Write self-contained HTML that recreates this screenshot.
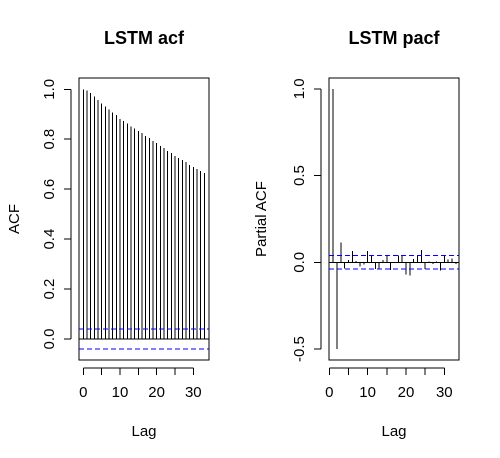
<!DOCTYPE html>
<html><head><meta charset="utf-8"><style>
html,body{margin:0;padding:0;background:#fff}
svg{display:block;font-family:"Liberation Sans",Arial,sans-serif}
line,rect{shape-rendering:crispEdges}
</style></head><body>
<svg id="c" width="500" height="458" viewBox="0 0 500 458"></svg>
<script>
const acfLags=[0,1,2,3,4,5,6,7,8,9,10,11,12,13,14,15,16,17,18,19,20,21,22,23,24,25,26,27,28,29,30,31,32,33];
const acfValues=[1.0,0.996,0.985,0.972,0.957,0.944,0.932,0.920,0.908,0.897,0.882,0.873,0.864,0.852,0.844,0.833,0.825,0.813,0.805,0.793,0.784,0.773,0.764,0.753,0.744,0.733,0.724,0.716,0.708,0.696,0.688,0.680,0.672,0.664];
const pacfLags=[1,2,3,4,5,6,7,8,9,10,11,12,13,14,15,16,17,18,19,20,21,22,23,24,25,26,27,28,29,30,31,32,33];
const pacfValues=[1.0,-0.50,0.113,-0.035,0.013,0.065,0.008,-0.025,-0.012,0.065,0.04,-0.038,-0.036,0.013,0.04,-0.044,-0.005,0.038,0.038,-0.07,-0.077,0.019,0.04,0.071,-0.04,0.005,-0.01,0.005,-0.048,0.04,0.015,0.023,-0.01];
const ciBound=0.04;
const acfYTicks=[0,0.2,0.4,0.6,0.8,1.0];
const acfYLabels=["0.0","0.2","0.4","0.6","0.8","1.0"];
const pacfYTicks=[-0.5,0,0.5,1.0];
const pacfYLabels=["-0.5","0.0","0.5","1.0"];
const xTicks=[0,5,10,15,20,25,30];
const xLabelTicks=[0,10,20,30];

const NS="http://www.w3.org/2000/svg";
const svg=document.getElementById('c');
function el(tag,attrs,parent,text){const e=document.createElementNS(NS,tag);for(const k in attrs)e.setAttribute(k,attrs[k]);if(text!==undefined)e.textContent=text;(parent||svg).appendChild(e);return e;}

function panel(cfg){
  const g=el('g',{});
  
  
  const X=v=>cfg.x0+(v-0)*cfg.xs;
  const Y=v=>cfg.yZero-v*cfg.ys;
  const box=el('rect',{x:cfg.left,y:78,width:cfg.right-cfg.left,height:282,fill:'none',stroke:'#000','stroke-width':1},g);
  
  const t=el('text',{x:(cfg.left+cfg.right)/2,y:44,'text-anchor':'middle','font-size':18,'font-weight':'bold'},g,cfg.title);
  
  const xl=el('text',{x:(cfg.left+cfg.right)/2,y:436,'text-anchor':'middle','font-size':15},g,'Lag');
  
  const yl=el('text',{x:cfg.ytx,y:(78+360)/2,'text-anchor':'middle','font-size':15,transform:`rotate(-90 ${cfg.ytx} ${(78+360)/2})`},g,cfg.ytitle);
  
  const xa=el('g',{},g);
  el('line',{x1:X(xTicks[0]),x2:X(xTicks[xTicks.length-1]),y1:368,y2:368,stroke:'#000'},xa);
  xTicks.forEach(v=>el('line',{x1:X(v),x2:X(v),y1:368,y2:375,stroke:'#000'},xa));
  xLabelTicks.forEach(v=>{const tx=el('text',{x:X(v),y:397,'text-anchor':'middle','font-size':15},xa,String(v));});
  const ya=el('g',{},g);
  const yt=cfg.yTicks;
  el('line',{x1:cfg.left-8,x2:cfg.left-8,y1:Y(yt[0]),y2:Y(yt[yt.length-1]),stroke:'#000'},ya);
  yt.forEach((v,i)=>{el('line',{x1:cfg.left-15,x2:cfg.left-8,y1:Y(v),y2:Y(v),stroke:'#000'},ya);
    const lx=cfg.left-25;const tx=el('text',{x:lx,y:Y(v),'text-anchor':'middle','font-size':15,transform:`rotate(-90 ${lx} ${Y(v)})`},ya,cfg.yLabels[i]);
    });
  el('line',{x1:cfg.left,x2:cfg.right,y1:Y(0),y2:Y(0),stroke:'#000'},g);
  cfg.lags.forEach((l,i)=>{const b=el('line',{x1:X(l),x2:X(l),y1:Y(0),y2:Y(cfg.vals[i]),stroke:'#000'},g);
    });
  [ciBound,-ciBound].forEach(c=>{const l=el('line',{x1:cfg.left,x2:cfg.right,y1:Y(c),y2:Y(c),stroke:'#0000ff','stroke-dasharray':'5,3'},g);
    });
}
panel({name:'acf-panel',title:'LSTM acf',ytitle:'ACF',left:79,right:209,x0:83.3,xs:3.667,yZero:339,ys:249.7,ytx:19,yTicks:acfYTicks,yLabels:acfYLabels,lags:acfLags,vals:acfValues});
panel({name:'pacf-panel',title:'LSTM pacf',ytitle:'Partial ACF',left:329,right:459,x0:329.3,xs:3.833,yZero:262.3,ys:173.5,ytx:266,yTicks:pacfYTicks,yLabels:pacfYLabels,lags:pacfLags,vals:pacfValues});
</script>
</body></html>
